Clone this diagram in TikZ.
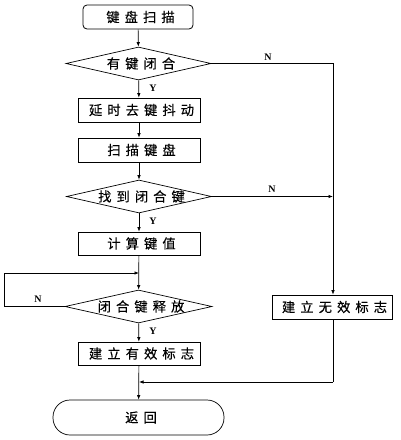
\documentclass[tikz,border=0pt]{standalone}
\usepackage{fontspec}
\newfontfamily\cjk[LetterSpace=38,FakeBold=0.25]{Noto Sans CJK SC}
\newfontfamily\lbl{Liberation Serif}
\newcommand\cc[1]{\kern0.38em#1}
\usetikzlibrary{shapes.geometric,arrows.meta,shadows}
\begin{document}
\begin{tikzpicture}[x=1pt,y=-1pt,
  every node/.style={font=\cjk\fontsize{13.3}{15}\selectfont},
  proc/.style={draw,fill=white,line width=0.7pt,rectangle,inner sep=0pt,minimum width=122pt,minimum height=24pt,
    drop shadow={shadow xshift=0.9pt,shadow yshift=-0.9pt,fill=black,opacity=1}},
  start/.style={draw,fill=white,line width=0.8pt,rectangle,rounded corners=4pt,inner sep=0pt,minimum width=110pt,minimum height=24pt},
  dec/.style={draw,line width=0.7pt,diamond,aspect=1,inner sep=0pt,minimum width=145pt,minimum height=33pt},
  term/.style={draw,line width=0.7pt,rectangle,rounded corners=17pt,inner sep=0pt,minimum width=171pt,minimum height=35pt},
  yn/.style={font=\lbl\bfseries\fontsize{10}{12}\selectfont,inner sep=0pt},
  line/.style={line width=0.7pt},
  arr/.style={line width=0.7pt,-{Latex[length=4.5pt,width=3.5pt]}}]
\useasboundingbox (0,0) rectangle (400,440);
\node[start] (b1) at (138,17) {\cc{键盘扫描}};
\node[dec] (d1) at (138.5,63.5) {\makebox[0pt]{\cc{有键闭合}}};
\node[proc] (b2) at (139,110) {\cc{延时去键抖动}};
\node[proc] (b3) at (139,150) {\cc{扫描键盘}};
\node[dec] (d2) at (139,196.5) {\makebox[0pt]{\cc{找到闭合键}}};
\node[proc,minimum height=23pt] (b4) at (139,243.5) {\cc{计算键值}};
\node[dec,minimum width=147pt] (d3) at (138.5,306.5) {\makebox[0pt]{\cc{闭合键释放}}};
\node[proc,minimum height=23pt] (b5) at (139,353.5) {\cc{建立有效标志}};
\node[proc,minimum width=120pt] (b6) at (332,307) {\cc{建立无效标志}};
\node[term] (t) at (138.5,417.5) {\cc{返回}};
\coordinate (r1) at (333,63.5);
\coordinate (r2) at (333,196.5);
\coordinate (m) at (139,382);
\coordinate (mr) at (333,382);
\coordinate (l1) at (4,306.5);
\coordinate (l2) at (4,273);
\coordinate (l3) at (139,273);
\draw[arr] (b1) -- (d1);
\draw[arr] (d1) -- (b2);
\draw[arr] (b2) -- (b3);
\draw[arr] (b3) -- (d2);
\draw[arr] (d2) -- (b4);
\draw[arr] (b4) -- (d3);
\draw[arr] (d3) -- (b5);
\draw[arr] (b5) -- (t);
\draw[arr] (d1.east) -- (r1) -- (b6.north -| r1);
\draw[arr] (d2.east) -- (r2);
\draw[line] (d3.west) -- (l1) -- (l2);
\draw[arr] (l2) -- (l3);
\draw[line] (b6.south -| mr) -- (mr);
\draw[arr] (mr) -- (m);
\node[yn] (n1) at (268,57) {N};
\node[yn] (n2) at (272,189) {N};
\node[yn] (n3) at (38,299) {N};
\node[yn] (y1) at (153,88) {Y};
\node[yn] (y2) at (153,221) {Y};
\node[yn] (y3) at (153,331) {Y};
\end{tikzpicture}
\end{document}
